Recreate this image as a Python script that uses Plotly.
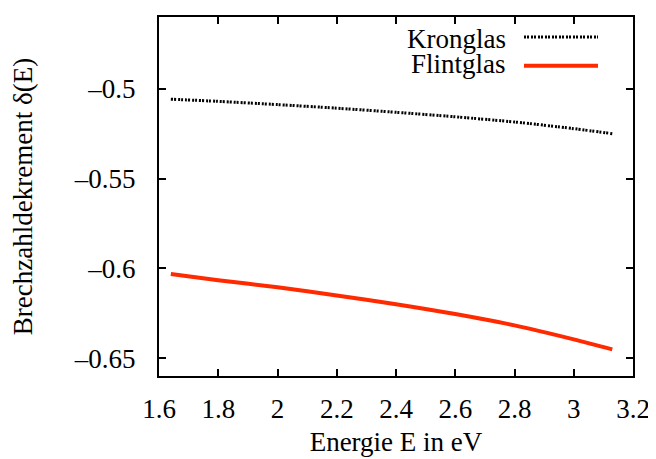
import plotly.graph_objects as go

energy = [1.64, 1.8, 2.0, 2.2, 2.4, 2.6, 2.8, 3.0, 3.13]
kronglas = [-0.5058, -0.5070, -0.5088, -0.5108, -0.5131, -0.5156, -0.5185, -0.5222, -0.5250]
flintglas = [-0.6032, -0.6066, -0.6106, -0.6151, -0.6200, -0.6255, -0.6318, -0.6396, -0.6452]

x_tickvals = [1.6, 1.8, 2.0, 2.2, 2.4, 2.6, 2.8, 3.0, 3.2]
x_ticktext = ["1.6", "1.8", "2", "2.2", "2.4", "2.6", "2.8", "3", "3.2"]
y_tickvals = [-0.5, -0.55, -0.6, -0.65]
y_ticktext = ["–0.5", "–0.55", "–0.6", "–0.65"]

FONT = "Liberation Serif, Times New Roman, serif"
FS = 27
RED = "#ff2a00"
KRON_LINE = dict(color="black", width=3, dash="2px,1px,2px,2px")
FLINT_LINE = dict(color=RED, width=4)

fig = go.Figure()
fig.add_trace(go.Scatter(x=energy, y=kronglas, mode="lines", name="Kronglas",
                         line=dict(**KRON_LINE, shape="spline", smoothing=0.8)))
fig.add_trace(go.Scatter(x=energy, y=flintglas, mode="lines", name="Flintglas",
                         line=dict(**FLINT_LINE, shape="spline", smoothing=0.8)))

axis_common = dict(showline=True, linecolor="black", linewidth=2, mirror="ticks",
                   ticks="inside", ticklen=7, tickwidth=1.5, tickcolor="black",
                   showgrid=False, zeroline=False,
                   tickfont=dict(family=FONT, size=FS, color="black"))

# page has an 8px body margin; compensate so the plot area sits at x 159..633, y 15..376
fig.update_layout(
    width=656, height=459,
    margin=dict(l=151, r=31, t=7, b=91),
    paper_bgcolor="white", plot_bgcolor="white",
    showlegend=False,
    font=dict(family=FONT, size=FS, color="black"),
    xaxis=dict(range=[1.6, 3.2], tickvals=x_tickvals, ticktext=x_ticktext,
               title=dict(text="Energie E in eV", font=dict(family=FONT, size=FS), standoff=9),
               ticklabelstandoff=8, **axis_common),
    yaxis=dict(range=[-0.66, -0.46], tickvals=y_tickvals, ticktext=y_ticktext,
               title=dict(text="Brechzahldekrement δ(E)", font=dict(family=FONT, size=FS), standoff=35),
               ticklabelstandoff=16, **axis_common),
)

def px(X):
    return (X - 159) / 474

def py(Y):
    return (376 - Y) / 361

legend_items = [("Kronglas", KRON_LINE, 37, 35),
                ("Flintglas", FLINT_LINE, 62, 64)]
for name, ln, ytext, yline in legend_items:
    fig.add_annotation(x=px(508), y=py(ytext), xref="paper", yref="paper", text=name,
                       showarrow=False, xanchor="right", yanchor="middle",
                       font=dict(family=FONT, size=FS, color="black"))
    fig.add_shape(type="line", xref="paper", yref="paper", x0=px(524), x1=px(598),
                  y0=py(yline), y1=py(yline), line=ln)

fig.write_html("out.html")
